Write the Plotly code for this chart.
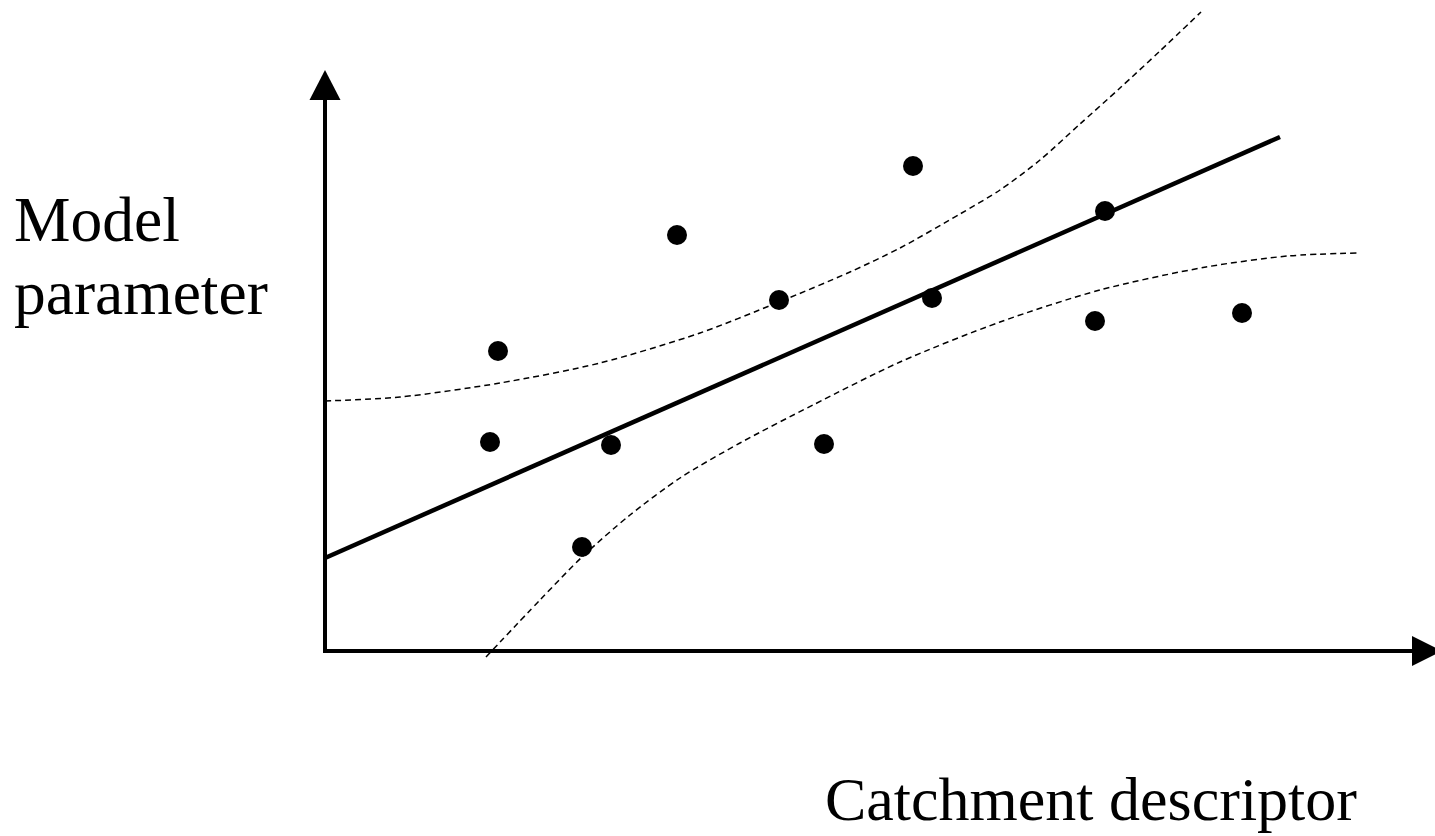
import plotly.graph_objects as go

# Observed catchments (descriptor, parameter) in arbitrary units from the axis origin
desc_x = [173, 165, 257, 286, 352, 454, 499, 588, 607, 780, 770, 917]
param_y = [300, 209, 104, 206, 416, 351, 207, 485, 353, 440, 330, 338]

# Regression line end points
reg_x = [0, 955]
reg_y = [93, 514]

# Upper confidence band
upper_x = [0, 75, 175, 275, 375, 454, 525, 575, 635, 675, 715, 755, 795, 835, 876]
upper_y = [250, 254, 268, 288, 318, 349, 379, 403, 437, 461, 491, 527, 563, 600, 639]

# Lower confidence band
lower_x = [161, 215, 257, 305, 355, 415, 488, 575, 675, 775, 881, 963, 1032]
lower_y = [-6, 51, 94, 136, 173, 208, 246, 289, 329, 361, 384, 395, 398]

W, H = 1435, 836
X0, Y0 = 325, 651  # axis origin in pixels

fig = go.Figure()
band = dict(color="black", width=1.5, dash="6px,4px", shape="spline", smoothing=0.8)
fig.add_trace(go.Scatter(x=upper_x, y=upper_y, mode="lines", line=band, hoverinfo="skip"))
fig.add_trace(go.Scatter(x=lower_x, y=lower_y, mode="lines", line=band, hoverinfo="skip"))
fig.add_trace(go.Scatter(x=reg_x, y=reg_y, mode="lines",
                         line=dict(color="black", width=4.5), hoverinfo="skip"))
fig.add_trace(go.Scatter(x=desc_x, y=param_y, mode="markers",
                         marker=dict(color="black", size=20, line=dict(width=0))))

# axes with arrow heads
shapes = [
    dict(type="line", xref="x", yref="y", x0=0, y0=-2, x1=0, y1=Y0 - 100,
         line=dict(color="black", width=4)),
    dict(type="path", xref="x", yref="y",
         path=f"M -15.5 {Y0-100} L 15.5 {Y0-100} L 0 {Y0-70} Z",
         fillcolor="black", line=dict(width=0)),
    dict(type="line", xref="x", yref="y", x0=-2, y0=0, x1=1412 - X0, y1=0,
         line=dict(color="black", width=4)),
    dict(type="path", xref="x", yref="y",
         path=f"M {1412-X0} 15 L {1412-X0} -15 L {1442-X0} 0 Z",
         fillcolor="black", line=dict(width=0)),
]

def ann(text, px, py_bottom, size):
    return dict(text=text, xref="paper", yref="paper", x=px / W, y=1 - py_bottom / H,
                xanchor="left", yanchor="bottom", showarrow=False,
                font=dict(family="Liberation Serif, Times New Roman, serif",
                          size=size, color="black"))

annotations = [
    ann("Model", 12, 257, 63.5),
    ann("parameter", 12, 330, 63.5),
    ann("Catchment descriptor", 823, 835, 62),
]

fig.update_layout(
    width=W, height=H, autosize=False,
    margin=dict(l=0, r=0, t=0, b=0),
    paper_bgcolor="white", plot_bgcolor="white",
    showlegend=False,
    xaxis=dict(range=[-X0, W - X0], visible=False, fixedrange=True),
    yaxis=dict(range=[Y0 - H, Y0], visible=False, fixedrange=True),
    shapes=shapes, annotations=annotations,
)

fig.write_html("out.html", post_script="document.body.style.margin='0';",
               config={"displayModeBar": False})
